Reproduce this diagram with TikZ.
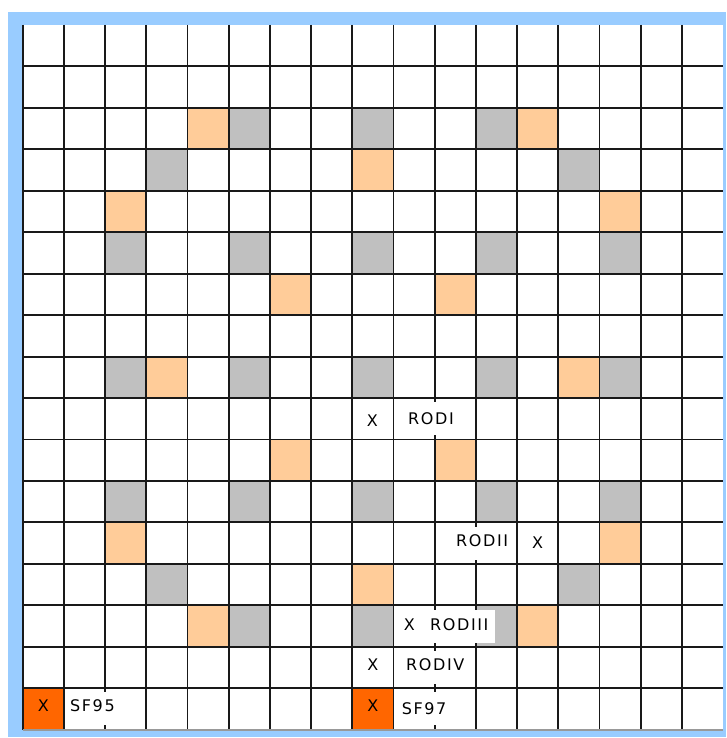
\documentclass[tikz,border=0pt]{standalone}
\usepackage{fontspec}
\newfontfamily\labfont[LetterSpace=10]{DejaVu Sans}
\newfontfamily\xfont{DejaVu Sans}
\definecolor{frameblue}{RGB}{153,204,255}
\definecolor{peach}{RGB}{255,204,153}
\definecolor{cellgray}{RGB}{192,192,192}
\definecolor{hotorange}{RGB}{255,102,0}
\definecolor{gridline}{RGB}{25,25,25}
\begin{document}
\begin{tikzpicture}[x=1pt,y=-1pt,
  gridln/.style={line width=1.9pt,draw=gridline},
  lab/.style={font=\labfont\fontsize{16}{19}\selectfont,inner sep=0pt,anchor=west},
  xmark/.style={font=\xfont\fontsize{16}{19}\selectfont,inner sep=0pt},
  labbox/.style={fill=white}]
\useasboundingbox (0,0) rectangle (726,738);
\fill[white] (0,0) rectangle (726,738);
\fill[frameblue] (8,11.7) rectangle (726,736.7);
\fill[white] (22.7,25) rectangle (723.1,729.65);
% light orange cells
\foreach \c/\r in {4/2,12/2,8/3,2/4,14/4,6/6,10/6,3/8,13/8,6/10,10/10,2/12,14/12,8/13,4/14,12/14}
  \fill[peach] ({22.7+41.2*\c},{25+41.45*\r}) rectangle ++(41.2,41.45);
% gray cells
\foreach \c/\r in {5/2,8/2,11/2,3/3,13/3,2/5,5/5,8/5,11/5,14/5,2/8,5/8,8/8,11/8,14/8,2/11,5/11,8/11,11/11,14/11,3/13,13/13,5/14,8/14,11/14}
  \fill[cellgray] ({22.7+41.2*\c},{25+41.45*\r}) rectangle ++(41.2,41.45);
% dark orange cells
\foreach \c/\r in {0/16,8/16}
  \fill[hotorange] ({22.7+41.2*\c},{25+41.45*\r}) rectangle ++(41.2,41.45);
% grid
\foreach \c in {0,...,16}
  \draw[gridln] ({22.7+41.2*\c},25) -- ({22.7+41.2*\c},729.65);
\foreach \r in {1,...,16}
  \draw[gridln] (22.7,{25+41.45*\r}) -- (723.1,{25+41.45*\r});
\draw[line width=1.9pt,draw=gray!80] (22.7,729.65) -- (723.1,729.65);
% label boxes
\fill[labbox] (394.7,402.3) rectangle (474.7,435.3);
\fill[labbox] (435.9,526.6) rectangle (515.9,559.6);
\fill[labbox] (394.7,609.5) rectangle (495.0,642.5);
\fill[labbox] (394.7,651.0) rectangle (474.7,684.0);
\fill[labbox] (394.7,692.4) rectangle (474.7,725.4);
\fill[labbox] (65.1,692.4) rectangle (145.1,725.4);
% texts
\node[xmark] (x1) at (372.3,420.5) {X};
\node[lab] (rod1) at (408,418.5) {RODI};
\node[lab] (rod2) at (456,540.5) {RODII};
\node[xmark] (x2) at (537.7,543) {X};
\node[xmark] (x3) at (409.3,625) {X};
\node[lab] (rod3) at (430,625) {RODIII};
\node[xmark] (x4) at (372.9,665) {X};
\node[lab] (rod4) at (406,665) {RODIV};
\node[xmark] (x5) at (372.9,706) {X};
\node[lab] (sf97) at (401.7,708.3) {SF97};
\node[xmark] (x6) at (43.3,706) {X};
\node[lab] (sf95) at (70,706) {SF95};
\end{tikzpicture}
\end{document}
